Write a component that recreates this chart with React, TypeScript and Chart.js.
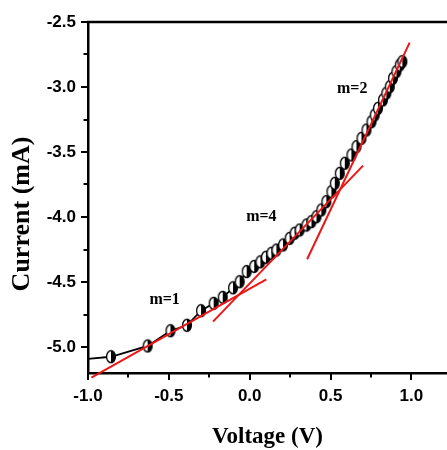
import React, { useEffect, useRef } from 'react';
import { Chart, registerables } from 'chart.js';

Chart.register(...registerables);

// Measured I–V data
const voltage = [-1.0, -0.858, -0.631, -0.490, -0.388, -0.301, -0.223, -0.167, -0.103, -0.062, -0.019, 0.028, 0.066, 0.100, 0.134, 0.165, 0.206, 0.247, 0.278, 0.309, 0.351, 0.382, 0.413, 0.443, 0.474, 0.505, 0.526, 0.557, 0.588, 0.629, 0.660, 0.691, 0.722, 0.753, 0.773, 0.793, 0.824, 0.845, 0.866, 0.886, 0.907, 0.928, 0.944];
const current = [-5.092, -5.075, -4.992, -4.875, -4.833, -4.721, -4.664, -4.618, -4.545, -4.498, -4.42, -4.38, -4.345, -4.31, -4.279, -4.254, -4.215, -4.164, -4.125, -4.100, -4.062, -4.036, -3.998, -3.946, -3.882, -3.805, -3.741, -3.664, -3.587, -3.523, -3.459, -3.395, -3.331, -3.267, -3.215, -3.164, -3.100, -3.048, -2.998, -2.933, -2.882, -2.831, -2.805];

// Fitted slope lines (endpoints)
const fitM1X = [-0.979, 0.103];
const fitM1Y = [-5.236, -4.479];
const fitM4X = [-0.227, 0.701];
const fitM4Y = [-4.805, -3.605];
const fitM2X = [0.355, 0.989];
const fitM2Y = [-4.325, -2.659];

// Slope labels
const slopeLabels = ['m=1', 'm=4', 'm=2'];
const slopeLabelX = [-0.526, 0.072, 0.634];
const slopeLabelY = [-4.638, -3.998, -3.015];

// Axes
const xTicks = [-1.0, -0.75, -0.5, -0.25, 0.0, 0.25, 0.5, 0.75, 1.0];
const yTicks = [-2.5, -2.75, -3.0, -3.25, -3.5, -3.75, -4.0, -4.25, -4.5, -4.75, -5.0];
const xMin = -1.0, xMax = 1.22, yMin = -5.2, yMax = -2.5;
const xTitle = 'Voltage (V)';
const yTitle = 'Current (mA)';

const isMajor = (v: number) => Math.abs(v * 2 - Math.round(v * 2)) < 1e-6;

function makeMarker(): HTMLCanvasElement {
  const c = document.createElement('canvas');
  c.width = 12; c.height = 15;
  const g = c.getContext('2d')!;
  g.beginPath();
  g.ellipse(6, 7.5, 4.4, 6, 0, 0, Math.PI * 2);
  g.fillStyle = '#fff';
  g.fill();
  g.save();
  g.clip();
  g.fillStyle = '#000';
  g.fillRect(6, 0, 6, 15);
  g.restore();
  g.lineWidth = 1.3;
  g.strokeStyle = '#000';
  g.stroke();
  return c;
}

const RED = 'rgb(235,22,22)';

export default function App() {
  const ref = useRef<HTMLCanvasElement>(null);
  useEffect(() => {
    const marker = makeMarker();
    const fit = (xs: number[], ys: number[]) => ({
      type: 'line' as const,
      data: xs.map((x, i) => ({ x, y: ys[i] })),
      borderColor: RED,
      borderWidth: 2,
      pointRadius: 0,
      showLine: true,
      clip: false as any,
      order: 0,
    });
    const overlay = {
      id: 'overlay',
      afterDraw(chart: any) {
        const ctx = chart.ctx as CanvasRenderingContext2D;
        const { left, right, top, bottom } = chart.chartArea;
        const xs = chart.scales.x, ys = chart.scales.y;
        ctx.save();
        // top frame line
        ctx.strokeStyle = '#000';
        ctx.lineWidth = 2.5;
        ctx.beginPath();
        ctx.moveTo(left - 1.25, top);
        ctx.lineTo(right, top);
        ctx.stroke();
        // ticks
        ctx.lineWidth = 2;
        xTicks.forEach((v) => {
          const px = Math.round(xs.getPixelForValue(v));
          const len = isMajor(v) ? 7 : 4.5;
          ctx.beginPath();
          ctx.moveTo(px, bottom);
          ctx.lineTo(px, bottom + len);
          ctx.stroke();
        });
        yTicks.forEach((v) => {
          const py = Math.round(ys.getPixelForValue(v));
          const len = isMajor(v) ? 7 : 4.5;
          ctx.beginPath();
          ctx.moveTo(left, py);
          ctx.lineTo(left - len, py);
          ctx.stroke();
        });
        // slope labels
        ctx.fillStyle = '#000';
        ctx.font = 'bold 16px "Liberation Serif"';
        ctx.textAlign = 'center';
        ctx.textBaseline = 'middle';
        slopeLabels.forEach((t, i) => {
          ctx.fillText(t, xs.getPixelForValue(slopeLabelX[i]), ys.getPixelForValue(slopeLabelY[i]));
        });
        // axis titles
        ctx.font = 'bold 23px "Liberation Serif"';
        ctx.fillText(xTitle, (left + right) / 2, 437);
        ctx.save();
        ctx.translate(22, 214);
        ctx.rotate(-Math.PI / 2);
        ctx.font = 'bold 26px "Liberation Serif"';
        ctx.fillText(yTitle, 0, 0);
        ctx.restore();
        ctx.restore();
      },
    };
    const tickFont = { family: '"Liberation Sans"', size: 17, weight: 'bold' as const };
    const chart = new Chart(ref.current!, {
      type: 'line',
      data: {
        datasets: [
          fit(fitM1X, fitM1Y),
          fit(fitM4X, fitM4Y),
          fit(fitM2X, fitM2Y),
          {
            type: 'line',
            data: voltage.map((x, i) => ({ x, y: current[i] })),
            borderColor: '#000',
            borderWidth: 1.8,
            pointStyle: marker as any,
            pointRadius: voltage.map((_, i) => (i === 0 ? 0 : 5)),
            showLine: true,
            order: 1,
          },
        ],
      },
      options: {
        animation: false,
        responsive: false,
        events: [],
        layout: { autoPadding: false, padding: { top: 22, right: 0, left: 0, bottom: 0 } },
        plugins: { legend: { display: false }, tooltip: { enabled: false } },
        scales: {
          x: {
            type: 'linear',
            min: xMin,
            max: xMax,
            afterBuildTicks: (s: any) => { s.ticks = xTicks.map((v) => ({ value: v })); },
            afterFit: (s: any) => { s.height = 77; s.paddingLeft = 0; s.paddingRight = 0; },
            grid: { drawOnChartArea: false, drawTicks: false },
            border: { display: true, color: '#000', width: 2.5 },
            ticks: {
              autoSkip: false,
              maxRotation: 0,
              padding: 13,
              color: '#000',
              font: tickFont,
              callback: (v: any) => (isMajor(Number(v)) ? Number(v).toFixed(1) : ''),
            },
          },
          y: {
            type: 'linear',
            min: yMin,
            max: yMax,
            afterBuildTicks: (s: any) => { s.ticks = yTicks.map((v) => ({ value: v })); },
            afterFit: (s: any) => { s.width = 88; s.paddingTop = 0; s.paddingBottom = 0; },
            grid: { drawOnChartArea: false, drawTicks: false },
            border: { display: true, color: '#000', width: 2.5 },
            ticks: {
              autoSkip: false,
              padding: 12,
              color: '#000',
              font: tickFont,
              callback: (v: any) => (isMajor(Number(v)) ? Number(v).toFixed(1) : ''),
            },
          },
        },
      },
      plugins: [overlay],
    });
    return () => chart.destroy();
  }, []);
  return (
    <div style={{ position: 'absolute', left: 0, top: 0, width: 447, height: 450, background: '#fff' }}>
      <canvas ref={ref} width={447} height={450} style={{ display: 'block' }} />
    </div>
  );
}
